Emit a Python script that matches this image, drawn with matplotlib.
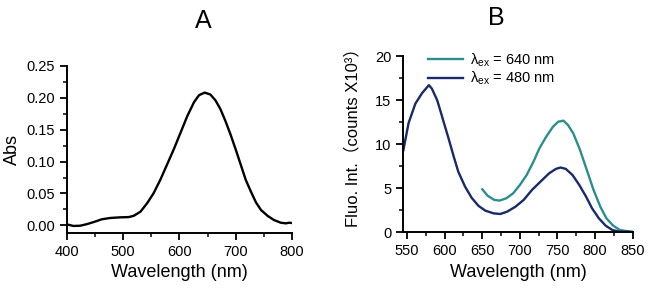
# Import Libraries
import matplotlib
matplotlib.use('Agg')
import matplotlib.pyplot as plt
import numpy as np
from matplotlib.ticker import MultipleLocator

plt.rcParams['font.family'] = ['Liberation Sans', 'Noto Sans CJK SC', 'DejaVu Sans']
plt.rcParams['mathtext.fontset'] = 'custom'
plt.rcParams['mathtext.rm'] = 'Liberation Sans'
plt.rcParams['mathtext.it'] = 'Liberation Sans:italic'

# Panel A - absorption spectrum
abs_wl = [400, 412, 424, 436, 450, 462, 477, 495, 510, 519, 531, 543, 554, 566, 578,
          590, 602, 614, 626, 635, 645, 655, 664, 673, 682, 691, 700, 709, 718, 727,
          736, 745, 757, 768, 780, 789, 795, 800]
abs_val = [0.0016, -0.0009, -0.0005, 0.0020, 0.0058, 0.0095, 0.0116, 0.0126, 0.0130,
           0.0150, 0.0215, 0.035, 0.050, 0.071, 0.095, 0.119, 0.145, 0.171, 0.193,
           0.204, 0.208, 0.205, 0.196, 0.182, 0.163, 0.142, 0.119, 0.095, 0.071,
           0.053, 0.036, 0.024, 0.0147, 0.0084, 0.0042, 0.0032, 0.0042, 0.0037]

# Panel B - fluorescence spectra (x10^3 counts)
fl_wl_480 = [545, 552, 561, 570, 579, 583, 590, 596, 598, 605, 612, 618, 627, 636, 645,
             654, 665, 674, 683, 694, 705, 716, 728, 739, 748, 754, 761, 770, 779, 788,
             796, 805, 814, 823, 832, 841, 850]
fl_480 = [9.3, 12.4, 14.6, 15.8, 16.7, 16.3, 15.0, 13.3, 12.7, 10.7, 8.6, 6.9, 5.2, 3.9,
          3.0, 2.46, 2.15, 2.08, 2.34, 2.9, 3.67, 4.8, 5.8, 6.7, 7.2, 7.35, 7.2, 6.5, 5.37,
          4.05, 2.72, 1.59, 0.76, 0.26, 0.08, 0.08, 0.0]
fl_wl_640 = [650, 657, 666, 673, 682, 691, 700, 709, 718, 726, 735, 744, 751, 758, 764,
             771, 780, 789, 798, 807, 815, 824, 833, 841, 850]
fl_640 = [4.88, 4.16, 3.67, 3.6, 3.86, 4.42, 5.37, 6.5, 8.0, 9.53, 10.85, 11.98, 12.55,
          12.67, 12.17, 11.23, 9.34, 7.07, 4.8, 2.9, 1.6, 0.76, 0.26, 0.15, 0.08]

teal = '#2a8f8c'
navy = '#182a6a'

fig = plt.figure(figsize=(6.54, 2.95), dpi=100)
axA = fig.add_axes([0.102, 0.210, 0.3445, 0.567])
axB = fig.add_axes([0.6167, 0.2125, 0.3507, 0.5975])


def style(ax):
    for s in ['top', 'right']:
        ax.spines[s].set_visible(False)
    for s in ['left', 'bottom']:
        ax.spines[s].set_linewidth(1.4)
    ax.tick_params(which='major', direction='out', length=5, width=1.3, labelsize=10.5)
    ax.tick_params(which='minor', direction='out', length=3, width=1.1)


# Panel A
axA.plot(abs_wl, abs_val, color='black', lw=1.7)
axA.set_xlim(400, 800)
axA.set_ylim(-0.012, 0.25)
axA.xaxis.set_major_locator(MultipleLocator(100))
axA.xaxis.set_minor_locator(MultipleLocator(50))
axA.yaxis.set_minor_locator(MultipleLocator(0.025))
axA.set_yticks([0, 0.05, 0.10, 0.15, 0.20, 0.25])
axA.set_yticklabels(['0.00', '0.05', '0.10', '0.15', '0.20', '0.25'])
axA.set_xlabel('Wavelength (nm)', fontsize=13)
axA.set_ylabel('Abs', fontsize=13)
style(axA)
fig.text(0.311, 0.93, 'A', fontsize=18, ha='center', va='center')

# Panel B
axB.plot(fl_wl_640, fl_640, color=teal, lw=1.7, label='λ$_{\\rm ex}$ = 640 nm')
axB.plot(fl_wl_480, fl_480, color=navy, lw=1.7, label='λ$_{\\rm ex}$ = 480 nm')
axB.set_xlim(545, 850)
axB.set_ylim(0, 20)
axB.xaxis.set_major_locator(MultipleLocator(50))
axB.xaxis.set_minor_locator(MultipleLocator(25))
axB.yaxis.set_major_locator(MultipleLocator(5))
axB.yaxis.set_minor_locator(MultipleLocator(2.5))
axB.set_xlabel('Wavelength (nm)', fontsize=13)
axB.set_ylabel('Fluo. Int.（counts X10³）', fontsize=12)
axB.yaxis.set_label_coords(-0.185, 0.56)
style(axB)
axB.legend(loc='upper left', bbox_to_anchor=(0.05, 1.10), frameon=False, fontsize=10.5,
           handlelength=2.4, handletextpad=0.5, labelspacing=0.05)
fig.text(0.759, 0.94, 'B', fontsize=18, ha='center', va='center')

fig.savefig('out.png', dpi=100)
